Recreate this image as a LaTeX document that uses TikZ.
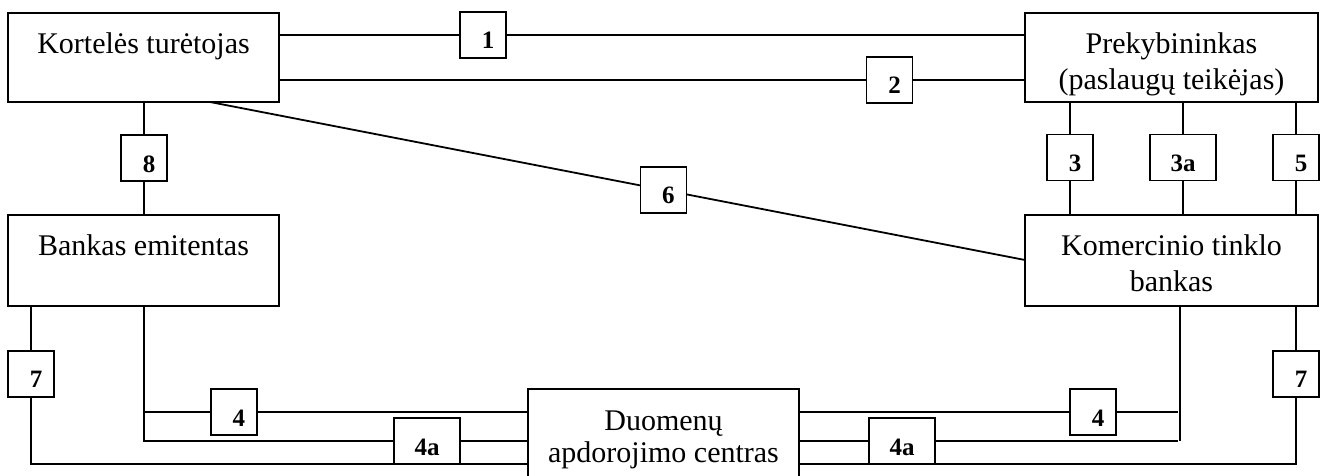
\documentclass[tikz,border=0pt]{standalone}
\usepackage{fontspec}
\setmainfont{Liberation Serif}
\begin{document}
\begin{tikzpicture}[x=1pt,y=-1pt, line width=1.8pt,
  bigbox/.style={draw, inner sep=0pt, outer sep=0pt},
  bigtxt/.style={inner sep=0pt, align=center, font=\fontsize{30}{36}\selectfont},
  dctxt/.style={inner sep=0pt, align=center, font=\fontsize{30}{32}\selectfont},
  numbase/.style={draw, fill=white, inner sep=0pt, outer sep=0pt, minimum height=46pt,
    text height=28pt, text depth=0pt, font=\fontsize{25}{30}\selectfont\bfseries},
  num/.style={numbase, minimum width=46pt, execute at begin node={\hspace*{10pt}}},
  numa/.style={numbase, minimum width=66pt}]
\useasboundingbox (0,0) rectangle (1320,476);

% main boxes
\node[bigbox, minimum width=271pt, minimum height=89pt,
  label={[bigtxt, anchor=north, yshift=-14pt]north:{\strut Kortelės turėtojas}}] (kt) at (143.5,57.5) {};
\node[bigbox, minimum width=293pt, minimum height=89pt,
  label={[bigtxt, anchor=north, yshift=-14pt]north:{\strut Prekybininkas\\\strut (paslaugų teikėjas)}}] (pr) at (1171.5,57.5) {};
\node[bigbox, minimum width=271pt, minimum height=91pt,
  label={[bigtxt, anchor=north, yshift=-14pt]north:{\strut Bankas emitentas}}] (be) at (143.5,260.5) {};
\node[bigbox, minimum width=293pt, minimum height=91pt,
  label={[bigtxt, anchor=north, yshift=-14pt]north:{\strut Komercinio tinklo\\\strut bankas}}] (kb) at (1171.5,260.5) {};
\node[bigbox, minimum width=271pt, minimum height=90pt,
  label={[dctxt, anchor=north, yshift=-18.6pt]north:{\strut Duomenų\\\strut apdorojimo centras}}] (dc) at (663.5,434) {};

% helper coordinates
\coordinate (h1) at (0,35);
\coordinate (h2) at (0,80);
\coordinate (x6) at (210,0);
\coordinate (y6) at (0,260);
\coordinate (v3) at (1070,0);
\coordinate (v3a) at (1183,0);
\coordinate (v5) at (1296,0);
\coordinate (c7l) at (31,464);
\coordinate (c4l) at (144,441);
\coordinate (c4lt) at (144,412);
\coordinate (c4r) at (1180,441);
\coordinate (e4rt) at (1178,412);
\coordinate (e4r) at (1178,441);
\coordinate (c7r) at (1296,464);

% connectors
\draw (kt.east |- h1) -- (pr.west |- h1) node[num, pos=0.2735] (b1) {1};
\draw (kt.east |- h2) -- (pr.west |- h2) node[num, pos=0.8184] (b2) {2};
\draw (kt.south -| c4l) -- (be.north -| c4l) node[num, pos=0.4956] (b8) {8};
\draw (kt.south -| x6) -- (kb.west |- y6) node[num, pos=0.5564] (b6) {6};
\draw (pr.south -| v3) -- (kb.north -| v3) node[num, pos=0.491] (b3) {3};
\draw (pr.south -| v3a) -- (kb.north -| v3a) node[numa, pos=0.491] (b3a) {3a};
\draw (pr.south -| v5) -- (kb.north -| v5) node[num, pos=0.491] (b5) {5};

\draw (be.south -| c7l) -- (c7l) node[num, pos=0.43] (b7l) {7} -- (dc.west |- c7l);
\draw (be.south -| c4l) -- (c4l) -- (dc.west |- c4l) node[numa, pos=0.737] (b4al) {4a};
\draw (c4lt) -- (dc.west |- c4lt) node[num, pos=0.234] (b4l) {4};

\draw (kb.south -| c4r) -- (c4r);
\draw (dc.east |- e4rt) -- (e4rt) node[num, pos=0.776] (b4r) {4};
\draw (dc.east |- e4r) -- (e4r) node[numa, pos=0.272] (b4ar) {4a};
\draw (kb.south -| c7r) -- (c7r) node[num, pos=0.43] (b7r) {7} -- (dc.east |- c7r);
\end{tikzpicture}
\end{document}
